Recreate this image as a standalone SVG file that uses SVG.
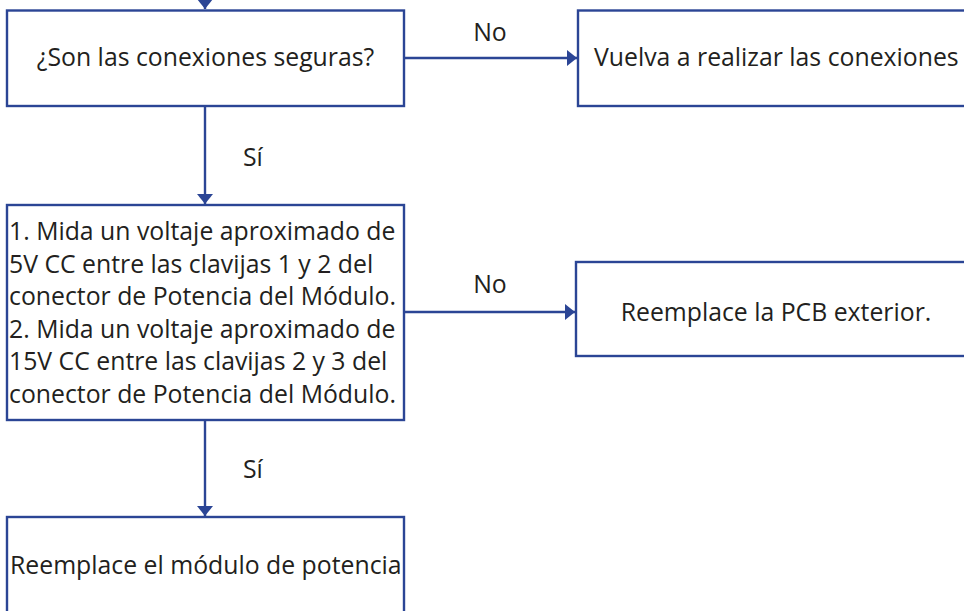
<svg xmlns="http://www.w3.org/2000/svg" width="964" height="611" viewBox="0 0 964 611">
<style>
.box{fill:#fff;stroke:#2b4595;stroke-width:2.4}
.ln{fill:none;stroke:#2b4595;stroke-width:2.4}
.t{font-family:"Open Sans","Liberation Sans",sans-serif;font-size:24.8px;fill:#231f20}
.c{text-anchor:middle}
</style>
<defs>
<marker id="ah" viewBox="0 0 10 16" refX="10" refY="8" markerWidth="10" markerHeight="16" markerUnits="userSpaceOnUse" orient="auto">
<path d="M0,0 L10,8 L0,16 Z" fill="#2b4595"/>
</marker>
</defs>
<g id="connectors">
<line class="ln" x1="205" y1="-10" x2="205" y2="9" marker-end="url(#ah)"/>
<line class="ln" x1="404" y1="58" x2="577" y2="58" marker-end="url(#ah)"/>
<line class="ln" x1="205" y1="106" x2="205" y2="204" marker-end="url(#ah)"/>
<line class="ln" x1="404" y1="312" x2="575" y2="312" marker-end="url(#ah)"/>
<line class="ln" x1="205" y1="420" x2="205" y2="516" marker-end="url(#ah)"/>
<text class="t c" x="490" y="41">No</text>
<text class="t c" x="490" y="293">No</text>
<text class="t" x="243" y="166">Sí</text>
<text class="t" x="243" y="478">Sí</text>
</g>
<g id="n1">
<rect class="box" x="7" y="10.5" width="397" height="95.5"/>
<text class="t c" x="205.5" y="66">¿Son las conexiones seguras?</text>
</g>
<g id="n2">
<rect class="box" x="578" y="10.5" width="400" height="95.5"/>
<text class="t" x="594" y="66">Vuelva a realizar las conexiones</text>
</g>
<g id="n3">
<rect class="box" x="7" y="205" width="397" height="215"/>
<text class="t" x="9">
<tspan x="9" y="240">1. Mida un voltaje aproximado de</tspan>
<tspan x="9" y="272.5">5V CC entre las clavijas 1 y 2 del</tspan>
<tspan x="9" y="305">conector de Potencia del Módulo.</tspan>
<tspan x="9" y="337.5">2. Mida un voltaje aproximado de</tspan>
<tspan x="9" y="370">15V CC entre las clavijas 2 y 3 del</tspan>
<tspan x="9" y="402.5">conector de Potencia del Módulo.</tspan>
</text>
</g>
<g id="n4">
<rect class="box" x="576" y="262" width="400" height="94"/>
<text class="t c" x="776" y="321">Reemplace la PCB exterior.</text>
</g>
<g id="n5">
<rect class="box" x="7" y="517" width="397" height="110"/>
<text class="t" x="10" y="574">Reemplace el módulo de potencia</text>
</g>
</svg>
